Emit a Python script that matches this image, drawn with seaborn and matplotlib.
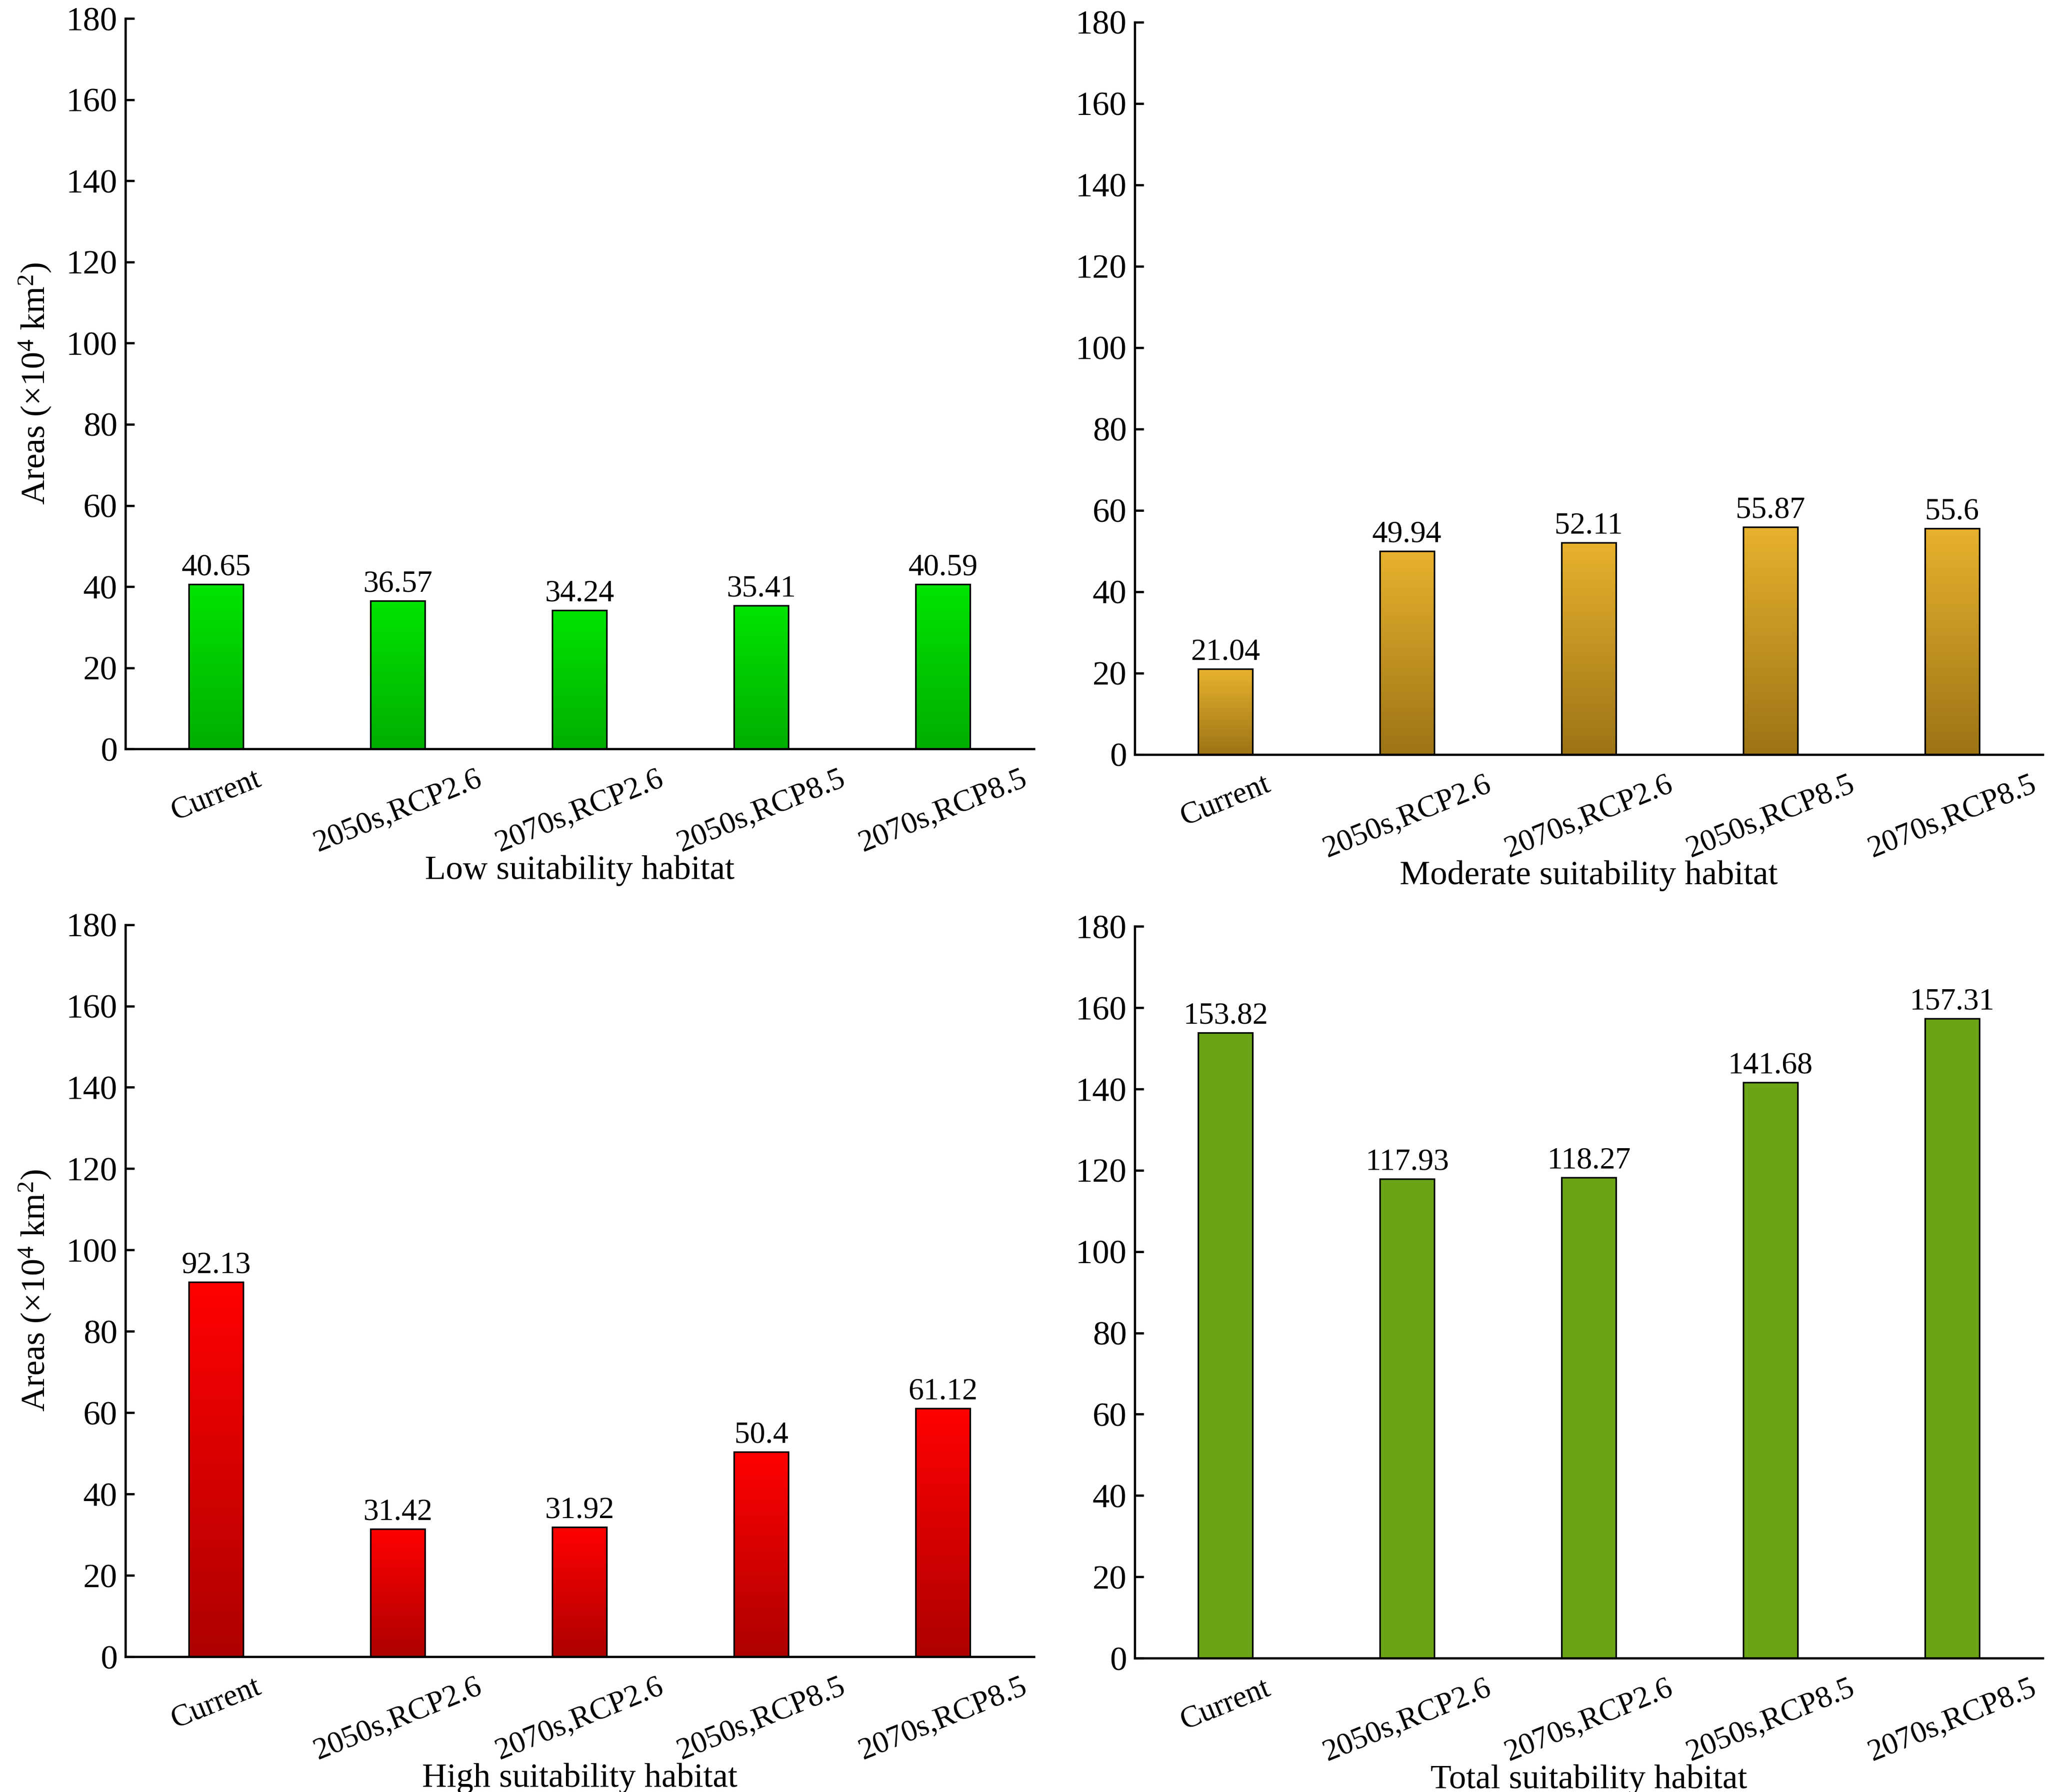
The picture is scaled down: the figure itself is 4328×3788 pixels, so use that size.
import numpy as np
import pandas as pd
import matplotlib
matplotlib.use("Agg")
import matplotlib.pyplot as plt
import matplotlib.colors as mcolors
import seaborn as sns

categories = ["Current", "2050s,RCP2.6", "2070s,RCP2.6", "2050s,RCP8.5", "2070s,RCP8.5"]
low_values = [40.65, 36.57, 34.24, 35.41, 40.59]
moderate_values = [21.04, 49.94, 52.11, 55.87, 55.6]
high_values = [92.13, 31.42, 31.92, 50.4, 61.12]
total_values = [153.82, 117.93, 118.27, 141.68, 157.31]
value_labels_low = ["40.65", "36.57", "34.24", "35.41", "40.59"]
value_labels_mod = ["21.04", "49.94", "52.11", "55.87", "55.6"]
value_labels_high = ["92.13", "31.42", "31.92", "50.4", "61.12"]
value_labels_total = ["153.82", "117.93", "118.27", "141.68", "157.31"]
titles = ["Low suitability habitat", "Moderate suitability habitat",
          "High suitability habitat", "Total suitability habitat"]
y_ticks = [0, 20, 40, 60, 80, 100, 120, 140, 160, 180]

sns.set_theme(style="ticks")
plt.rcParams['font.family'] = ['Liberation Serif', 'DejaVu Serif']
plt.rcParams['mathtext.fontset'] = 'custom'
plt.rcParams['mathtext.rm'] = 'Liberation Serif'
plt.rcParams['mathtext.it'] = 'Liberation Serif:italic'

fig = plt.figure(figsize=(43.28, 37.88), dpi=100)

panels = [
    dict(vals=low_values, labs=value_labels_low, title=titles[0],
         rect=[0.0612, 0.582, 0.4436, 0.4077], top="#00E400", bot="#00AE00", ylabel=True),
    dict(vals=moderate_values, labs=value_labels_mod, title=titles[1],
         rect=[0.554, 0.579, 0.4435, 0.4086], top="#E8B22E", bot="#9C7416", ylabel=False),
    dict(vals=high_values, labs=value_labels_high, title=titles[2],
         rect=[0.0612, 0.0755, 0.4436, 0.4085], top="#FF0000", bot="#AE0000", ylabel=True),
    dict(vals=total_values, labs=value_labels_total, title=titles[3],
         rect=[0.554, 0.0747, 0.4435, 0.4083], top="#6BA417", bot="#6BA417", ylabel=False),
]

for p in panels:
    ax = fig.add_axes(p["rect"])
    df = pd.DataFrame({"cat": categories, "val": p["vals"]})
    sns.barplot(data=df, x="cat", y="val", ax=ax, width=0.3, color=p["top"],
                edgecolor="black", linewidth=2.4, saturation=1)
    cmap = mcolors.LinearSegmentedColormap.from_list("g", [p["bot"], p["top"]])
    grad = np.linspace(0, 1, 256).reshape(-1, 1)
    for patch in ax.patches:
        x0 = patch.get_x(); w = patch.get_width(); h = patch.get_height(); y0 = patch.get_y()
        if p["top"] != p["bot"]:
            im = ax.imshow(grad, cmap=cmap, origin="lower", aspect="auto",
                           extent=[x0, x0 + w, y0, y0 + h], zorder=1.5,
                           interpolation="bicubic")
            im.set_clip_path(patch)
            patch.set_facecolor("none")
        patch.set_zorder(2)
    for patch, lab in zip(ax.patches, p["labs"]):
        ax.annotate(lab, (patch.get_x() + patch.get_width() / 2, patch.get_height()),
                    xytext=(0, 4), textcoords="offset points",
                    ha="center", va="bottom", fontsize=47, color="black")
    ax.set_xlim(-0.5, 4.5)
    ax.set_ylim(0, 180)
    ax.set_yticks(y_ticks)
    ax.set_yticklabels([str(t) for t in y_ticks])
    sns.despine(ax=ax)
    for s in ["left", "bottom"]:
        ax.spines[s].set_linewidth(3.4)
        ax.spines[s].set_color("black")
    ax.tick_params(axis="y", direction="in", length=14, width=3.4, labelsize=52,
                   colors="black", pad=12)
    ax.tick_params(axis="x", length=0, labelsize=47, colors="black", pad=24)
    for t in ax.get_xticklabels():
        t.set_rotation(22)
        t.set_ha("center")
    ax.set_xlabel(p["title"], fontsize=52, color="black", labelpad=-4)
    if p["ylabel"]:
        ax.set_ylabel(r"Areas ($\times$10$^{4}$ km$^{2}$)", fontsize=52, color="black", labelpad=20)
    else:
        ax.set_ylabel("")

fig.savefig("out.png", dpi=100, facecolor="white")
